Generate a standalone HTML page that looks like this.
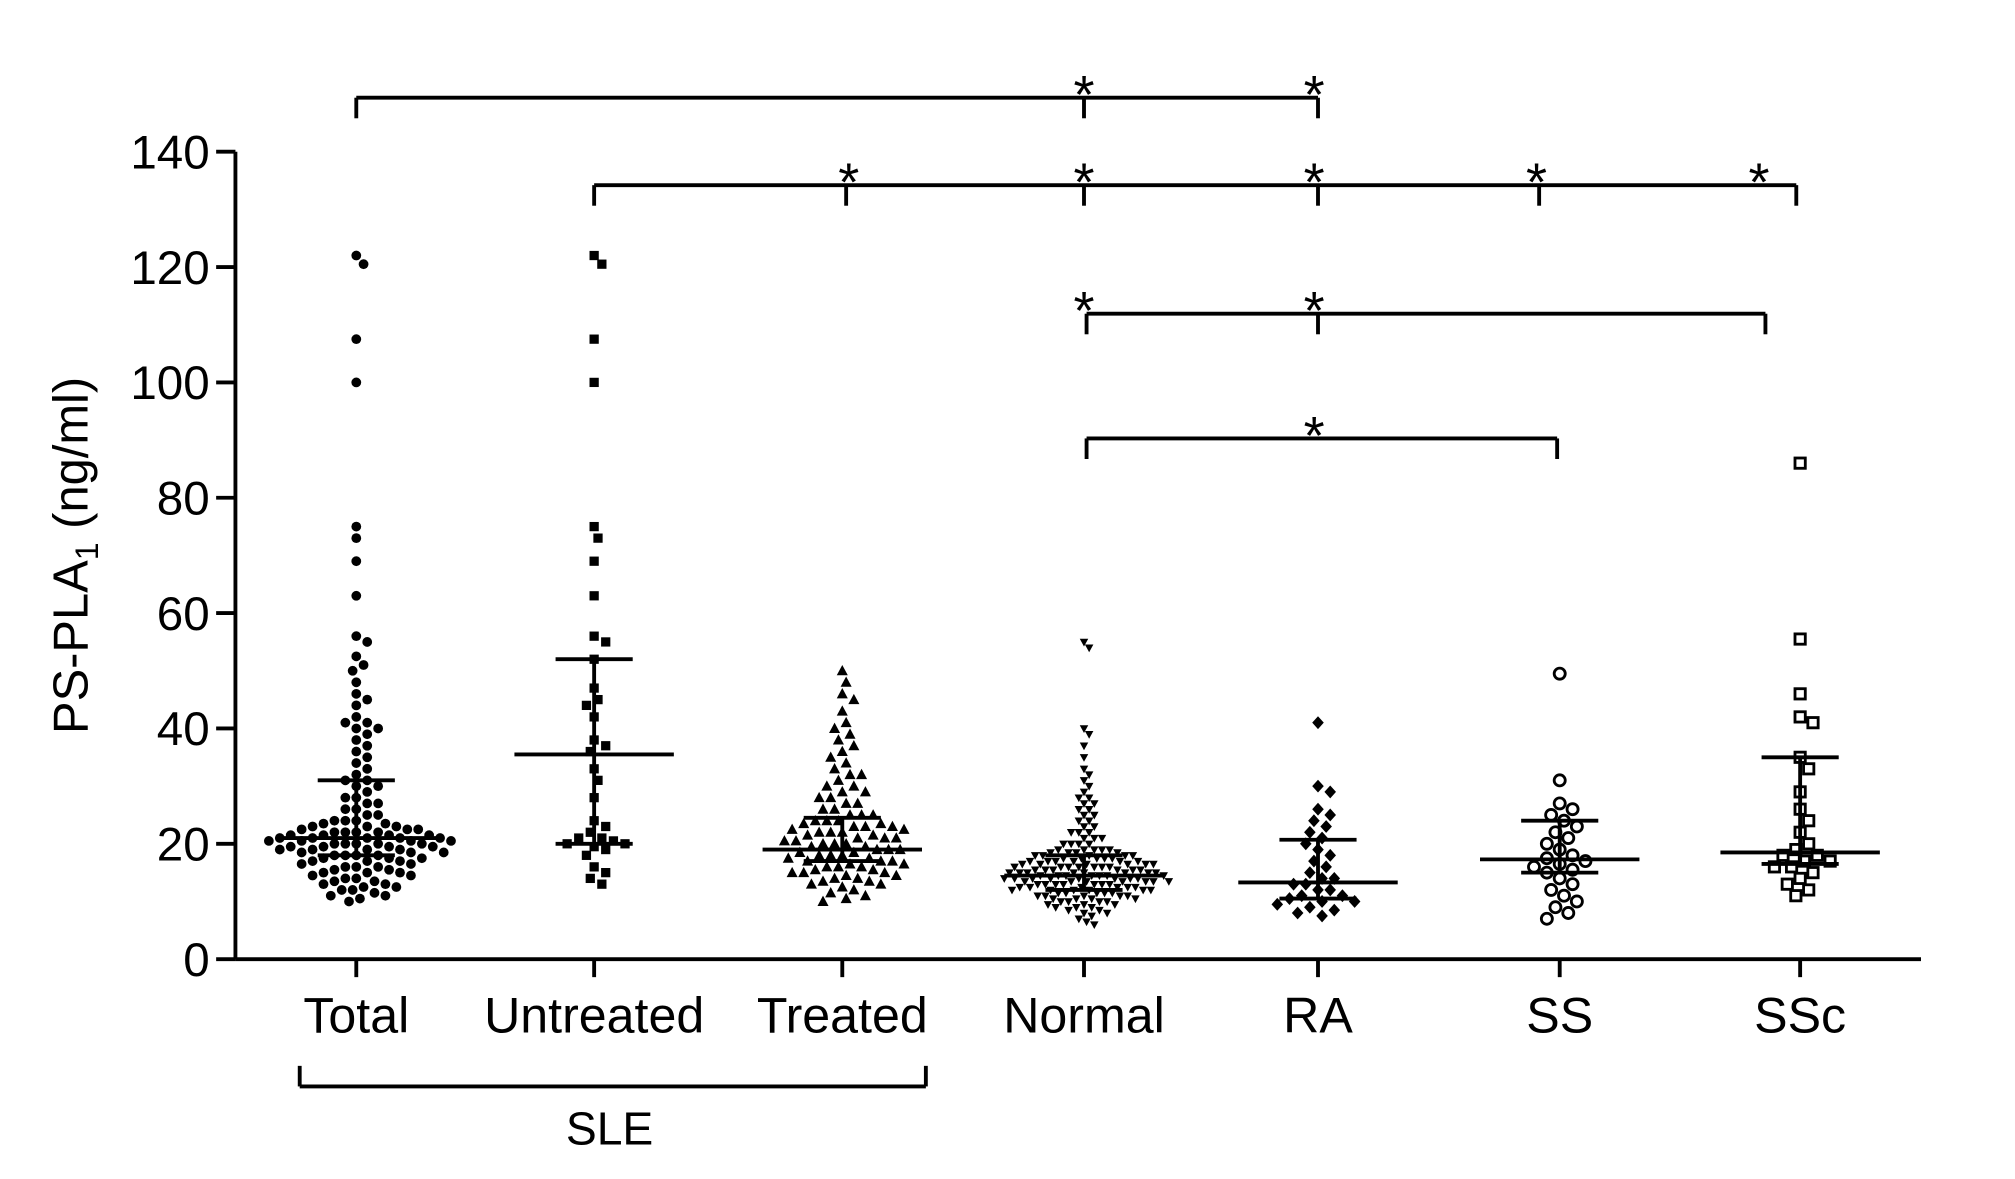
<!DOCTYPE html>
<html><head><meta charset="utf-8">
<style>
html,body{margin:0;padding:0;background:#fff;}
svg{display:block;font-family:"Liberation Sans",Arial,sans-serif;}
</style></head>
<body>
<svg id="chart" width="2015" height="1179" viewBox="0 0 1567 917" xmlns="http://www.w3.org/2000/svg">
<g id="axes"></g>
<g id="marks"></g>
<g id="annot"></g>
<text transform="translate(68,432) rotate(-90)" text-anchor="middle" font-size="38">PS-PLA<tspan font-size="25" dy="8">1</tspan><tspan dy="-8"> (ng/ml)</tspan></text>
</svg>
<script>
const categories = ["Total","Untreated","Treated","Normal","RA","SS","SSc"];
const catX = [277,462,655,843,1025,1213,1400];
const markers = ["circle","square","triUp","triDown","diamond","openCircle","openSquare"];
const yTicks = [0,20,40,60,80,100,120,140];
const total = [122,120.5,107.5,100,75,73,69,63,56,55,52.5,51,50,48,46,45,44,42,41,41,40,40,39,38,37,36,35,34,33,32,31,31,30,30,29,28,28,27,27,26,26,25,25,24,24,24,23.5,23.5,23,23,23,22.5,22.5,22.5,22,22,22,22,21.5,21.5,21.5,21.5,21,21,21,21,21,20.5,20.5,20.5,20.5,20,20,20,20,20,19.5,19.5,19.5,19.5,19,19,19,19,18.5,18.5,18.5,18,18,18,18,17.5,17.5,17.5,17,17,17,16.5,16.5,16,16,16,15.5,15.5,15,15,15,14.5,14.5,14,14,13.5,13.5,13,13,12.5,12.5,12,12,11.5,11,11,10.5,10];
const untreated = [122,120.5,107.5,100,75,73,69,63,56,55,52,47,45,44,42,38,37,36,33,31,28,24,23,22,21,21,20.5,20,20,19.5,19,18,16,15,14,13];
const treated = [50,48,46,45,43,41,40,39,38,37,36,35,34,33,32,32,31,30,30,29,29,28,28,27,27,26,26,25,25,25,24,24,24,23.5,23.5,23,23,23,22.5,22.5,22,22,22,21.5,21.5,21,21,21,20.5,20.5,20,20,20,19.5,19.5,19,19,19,18.5,18.5,18,18,18,17.5,17.5,17,17,17,16.5,16.5,16,16,16,15.5,15.5,15,15,15,14.5,14.5,14,14,13.5,13.5,13,13,12.5,12,11.5,11,10.5,10];
const normal = [55,54,40,39,37,35,33,32,31,30,29,28,28,27,27,26,26,25,25,24,24,23,23,22,22,22,21,21,21,20,20,20,20,19,19,19,19,19,18.5,18.5,18.5,18.5,18,18,18,18,18,17.5,17.5,17.5,17.5,17.5,17,17,17,17,17,17,16.5,16.5,16.5,16.5,16.5,16.5,16,16,16,16,16,16,16,15.5,15.5,15.5,15.5,15.5,15.5,15,15,15,15,15,15,15,15,14.5,14.5,14.5,14.5,14.5,14.5,14.5,14,14,14,14,14,14,14,14,13.5,13.5,13.5,13.5,13.5,13.5,13.5,13,13,13,13,13,13,13,12.5,12.5,12.5,12.5,12.5,12.5,12,12,12,12,12,12,11.5,11.5,11.5,11.5,11.5,11,11,11,11,11,10.5,10.5,10.5,10.5,10,10,10,10,9.5,9.5,9.5,9,9,9,8.5,8.5,8,8,7.5,7,6.5,6];
const ra = [41,30,29,26,25,24,23,22,21,20,19,18,17,16,15,14,14,13,13,12,12,11,11,10.5,10,10,9.5,9,8.5,8,7.5];
const ss = [49.5,31,27,26,25,24,23,22,21,20,19,18,17.5,17,16.5,16,15.5,15,14,13,12,11,10,9,8,7];
const ssc = [86,55.5,46,42,41,35,33,29,26,24,22,20,19,18,18,17,17,16,16,15,14,13,12,11];
const medians = [21,35.5,19,14.5,13.3,17.3,18.5];
const q1 = [18,20,17,12,10.5,15,16.5];
const q3 = [31,52,24.5,18,20.7,24,35];

const NS="http://www.w3.org/2000/svg";
const y = v => 746 - v*(628/140);
function mk(tag, attrs, parent){const e=document.createElementNS(NS,tag);for(const k in attrs)e.setAttribute(k,attrs[k]);parent.appendChild(e);return e;}
const axes=document.getElementById('axes'), marks=document.getElementById('marks'), annot=document.getElementById('annot');
const L={stroke:"#000","stroke-width":3,fill:"none"};

let a=mk('line',{x1:183,y1:y(0),x2:183,y2:y(140),...L},axes);

a=mk('line',{x1:183,y1:746,x2:1494,y2:746,...L},axes);

yTicks.forEach(t=>{
  const l=mk('line',{x1:168,y1:y(t),x2:183,y2:y(t),...L},axes);
  
  const tx=mk('text',{x:163,y:y(t)+13,"text-anchor":"end","font-size":37},axes);tx.textContent=t;
  
});
categories.forEach((c,i)=>{
  const l=mk('line',{x1:catX[i],y1:746,x2:catX[i],y2:760,...L},axes);
  
  const tx=mk('text',{x:catX[i],y:803,"text-anchor":"middle","font-size":39},axes);tx.textContent=c;
  
});

const groups=[total,untreated,treated,normal,ra,ss,ssc];
function drawMarker(type,cx,cy,g){
  let e;
  if(type==="circle") e=mk('circle',{cx,cy,r:3.8,fill:"#000"},g);
  else if(type==="square") e=mk('rect',{x:cx-3.6,y:cy-3.6,width:7.2,height:7.2,fill:"#000"},g);
  else if(type==="triUp") e=mk('polygon',{points:`${cx},${cy-4.5} ${cx-4.3},${cy+3.5} ${cx+4.3},${cy+3.5}`,fill:"#000"},g);
  else if(type==="triDown") e=mk('polygon',{points:`${cx},${cy+3.5} ${cx-3.3},${cy-2.5} ${cx+3.3},${cy-2.5}`,fill:"#000"},g);
  else if(type==="diamond") e=mk('polygon',{points:`${cx},${cy-5} ${cx-4.5},${cy} ${cx},${cy+5} ${cx+4.5},${cy}`,fill:"#000"},g);
  else if(type==="openCircle") e=mk('circle',{cx,cy,r:4.3,fill:"#fff",stroke:"#000","stroke-width":2.2},g);
  else e=mk('rect',{x:cx-4,y:cy-4,width:8,height:8,fill:"#fff",stroke:"#000","stroke-width":2.2},g);
  return e;
}
const diam=[8.5,9,9,6,9.5,10,10];
groups.forEach((vals,gi)=>{
  const g=mk('g',{},marks);
  
  
  const d=diam[gi], placed=[];
  vals.slice().sort((p,q)=>q-p).forEach(v=>{
    const py=y(v);
    let off=0;
    for(let k=0;k<200;k++){
      const cand=(k%2?1:-1)*Math.ceil(k/2)*(d/3);
      if(placed.every(p=>(p[0]-cand)**2+(p[1]-py)**2>=d*d)){off=cand;break;}
    }
    placed.push([off,py]);
    const m=drawMarker(markers[gi],catX[gi]+off,py,g);
    
    
  });
  const cx=catX[gi];
  let e=mk('line',{x1:cx-62,x2:cx+62,y1:y(medians[gi]),y2:y(medians[gi]),...L},g);
  
  e=mk('line',{x1:cx,x2:cx,y1:y(q1[gi]),y2:y(q3[gi]),...L},g);
  
  e=mk('line',{x1:cx-30,x2:cx+30,y1:y(q3[gi]),y2:y(q3[gi]),...L},g);
  
  e=mk('line',{x1:cx-30,x2:cx+30,y1:y(q1[gi]),y2:y(q1[gi]),...L},g);
  
});

function bracket(yy,ends,mids,stars,dir){
  const g=mk('g',{},annot);
  
  mk('line',{x1:ends[0],x2:ends[1],y1:yy,y2:yy,...L},g);
  ends.concat(mids).forEach(x=>mk('line',{x1:x,x2:x,y1:yy,y2:yy+16*dir,...L},g));
  stars.forEach(x=>{const s=mk('text',{x,y:yy+12,"text-anchor":"middle","font-size":42},g);s.textContent="*";
    });
}
bracket(76,[277,1025],[843],[843,1022],1);
bracket(144,[462,1397],[658,843,1025,1197],[660,843,1022,1195,1368],1);
bracket(244,[845,1373],[1025],[843,1022],1);
bracket(341,[845,1211],[],[1022],1);
bracket(845,[233,720],[],[],-1);
const sle=mk('text',{x:474,y:890,"text-anchor":"middle","font-size":36},annot);sle.textContent="SLE";

</script>
</body></html>
